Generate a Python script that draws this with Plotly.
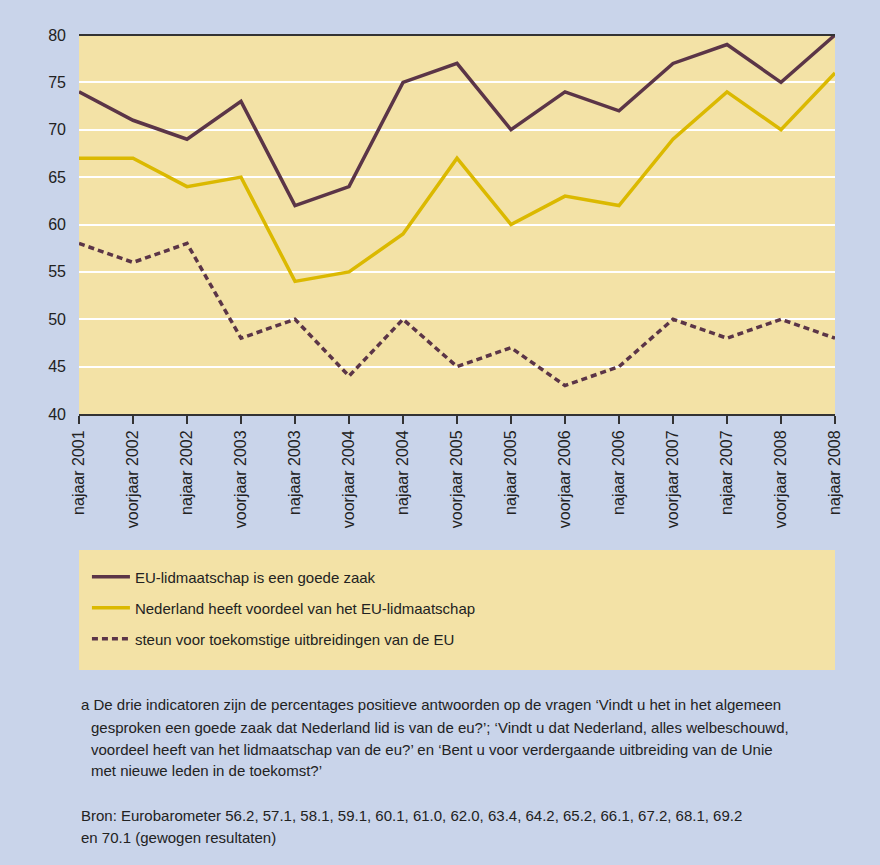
import plotly.graph_objects as go

categories = ["najaar 2001", "voorjaar 2002", "najaar 2002", "voorjaar 2003", "najaar 2003",
              "voorjaar 2004", "najaar 2004", "voorjaar 2005", "najaar 2005", "voorjaar 2006",
              "najaar 2006", "voorjaar 2007", "najaar 2007", "voorjaar 2008", "najaar 2008"]
goede_zaak = [74, 71, 69, 73, 62, 64, 75, 77, 70, 74, 72, 77, 79, 75, 80]
voordeel = [67, 67, 64, 65, 54, 55, 59, 67, 60, 63, 62, 69, 74, 70, 76]
uitbreiding = [58, 56, 58, 48, 50, 44, 50, 45, 47, 43, 45, 50, 48, 50, 48]
y_ticks = [40, 45, 50, 55, 60, 65, 70, 75, 80]

names = ["EU-lidmaatschap is een goede zaak",
         "Nederland heeft voordeel van het EU-lidmaatschap",
         "steun voor toekomstige uitbreidingen van de EU"]

footnote_lines = [
    "a De drie indicatoren zijn de percentages positieve antwoorden op de vragen ‘Vindt u het in het algemeen",
    "gesproken een goede zaak dat Nederland lid is van de eu?’; ‘Vindt u dat Nederland, alles welbeschouwd,",
    "voordeel heeft van het lidmaatschap van de eu?’ en ‘Bent u voor verdergaande uitbreiding van de Unie",
    "met nieuwe leden in de toekomst?’",
]
source_lines = [
    "Bron: Eurobarometer 56.2, 57.1, 58.1, 59.1, 60.1, 61.0, 62.0, 63.4, 64.2, 65.2, 66.1, 67.2, 68.1, 69.2",
    "en 70.1 (gewogen resultaten)",
]

MAROON = "#5b3547"
YELLOW = "#dbb900"
BG = "#c9d4ea"
PLOT = "#f3e2a6"
TXT = "#222222"

x_idx = list(range(len(categories)))

fig = go.Figure()
fig.add_trace(go.Scatter(x=x_idx, y=goede_zaak, mode="lines", name=names[0], legend="legend",
                         line=dict(color=MAROON, width=3.5)))
fig.add_trace(go.Scatter(x=x_idx, y=voordeel, mode="lines", name=names[1], legend="legend2",
                         line=dict(color=YELLOW, width=3.5)))
fig.add_trace(go.Scatter(x=x_idx, y=uitbreiding, mode="lines", name=names[2], legend="legend3",
                         line=dict(color=MAROON, width=3.5, dash="6px,4px")))

font_main = "Liberation Sans, Arial, sans-serif"
font_narrow = "Liberation Sans Narrow, Liberation Sans, Arial, sans-serif"

PT, PB = 35, 414  # plot top / bottom pixel
PL, PR = 79, 835
def py(pix):
    return (PB - pix) / (PB - PT)

def leg(ypix):
    return dict(x=0.0105, y=py(ypix), xanchor="left", yanchor="middle",
                bgcolor="rgba(0,0,0,0)", borderwidth=0,
                font=dict(family=font_narrow, size=15, color=TXT), itemwidth=38)

annotations = []
fy = [705, 727, 749, 771]
for i, line in enumerate(footnote_lines):
    annotations.append(dict(xref="paper", yref="paper", x=0.0 if i == 0 else 0.013, y=py(fy[i]),
                            xanchor="left", yanchor="middle", showarrow=False, align="left",
                            font=dict(family=font_narrow, size=15, color=TXT), text=line))
sy = [815, 837]
for i, line in enumerate(source_lines):
    annotations.append(dict(xref="paper", yref="paper", x=0.0, y=py(sy[i]),
                            xanchor="left", yanchor="middle", showarrow=False, align="left",
                            font=dict(family=font_narrow, size=15, color=TXT), text=line))

fig.update_layout(
    width=880, height=865,
    margin=dict(l=PL, r=880 - PR, t=PT, b=865 - PB),
    paper_bgcolor=BG, plot_bgcolor=PLOT,
    font=dict(family=font_main, size=16, color=TXT),
    showlegend=True,
    legend=leg(577), legend2=leg(608), legend3=leg(639),
    xaxis=dict(range=[0, 14], tickmode="array", tickvals=x_idx, ticktext=categories,
               tickangle=-90, showgrid=False, zeroline=False, showline=True,
               linecolor="#333333", linewidth=2, ticks="outside", ticklen=8,
               tickcolor="#333333", tickwidth=2, tickfont=dict(size=16)),
    yaxis=dict(range=[40, 80], tickmode="array", tickvals=y_ticks,
               showgrid=True, gridcolor="white", gridwidth=2, zeroline=False,
               showline=False, ticks="", ticklabelstandoff=12, tickfont=dict(size=16)),
    shapes=[
        dict(type="rect", xref="paper", yref="paper", x0=0.0, x1=1.0,
             y0=py(670), y1=py(550), fillcolor=PLOT, line=dict(width=0), layer="below"),
        dict(type="line", xref="paper", yref="paper", x0=0, x1=1, y0=1, y1=1,
             line=dict(color="#333333", width=2)),
    ],
    annotations=annotations,
)

fig.write_html("out.html", config={"displayModeBar": False},
               post_script="document.body.style.margin='0';")
